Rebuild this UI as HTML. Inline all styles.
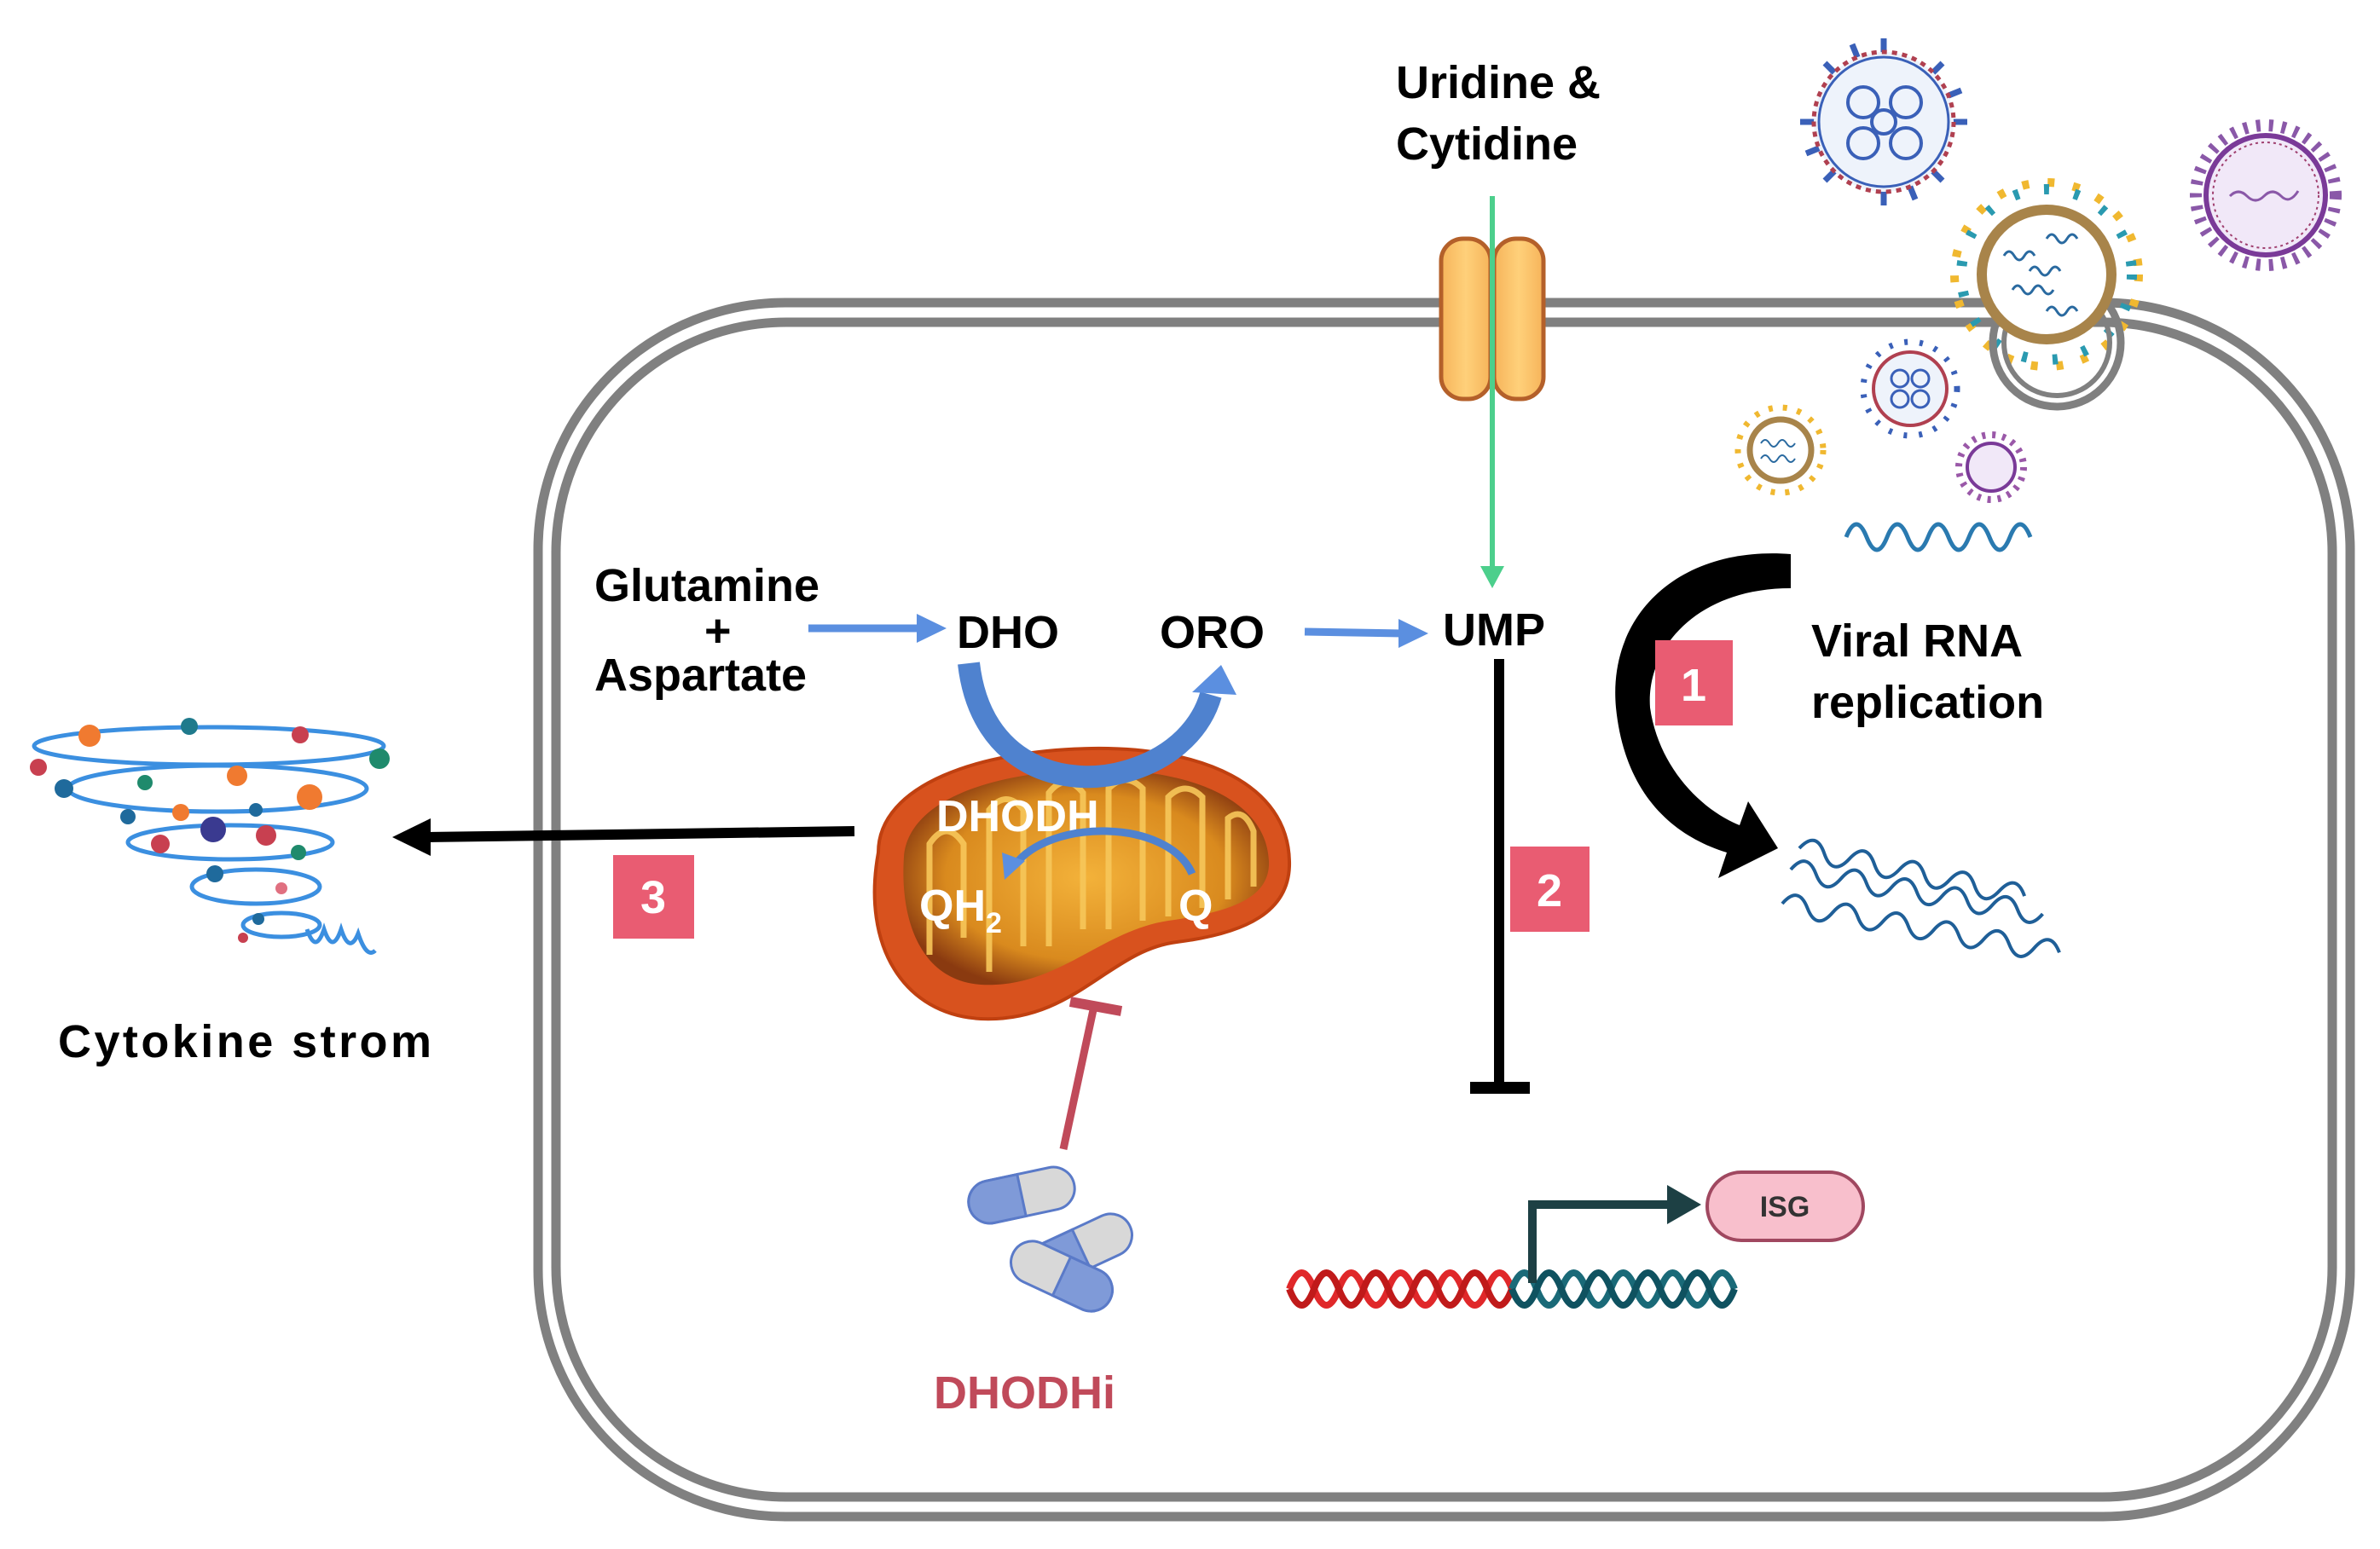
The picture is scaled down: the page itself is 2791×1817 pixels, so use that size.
<!DOCTYPE html>
<html><head><meta charset="utf-8"><style>
html,body{margin:0;padding:0;background:#fff}
svg{display:block}
text{font-family:"Liberation Sans",Arial,sans-serif;font-weight:bold}
</style></head><body>
<svg width="2791" height="1817" viewBox="0 0 2791 1817" xmlns="http://www.w3.org/2000/svg">
<defs>
<radialGradient id="mito" cx="50%" cy="50%" r="55%"><stop offset="0" stop-color="#f3b23a"/><stop offset="0.7" stop-color="#d98a1e"/><stop offset="1" stop-color="#8a3a10"/></radialGradient>
<linearGradient id="chan" x1="0" x2="1"><stop offset="0" stop-color="#f6b45a"/><stop offset="0.5" stop-color="#ffd07a"/><stop offset="1" stop-color="#f6b45a"/></linearGradient>
</defs>
<rect x="631" y="355" width="2125" height="1424" rx="290" fill="none" stroke="#808080" stroke-width="11"/>
<rect x="652" y="378" width="2083" height="1378" rx="270" fill="none" stroke="#808080" stroke-width="11"/>

<rect x="1690" y="280" width="58" height="188" rx="26" fill="url(#chan)" stroke="#b4602a" stroke-width="5"/>
<rect x="1752" y="280" width="58" height="188" rx="26" fill="url(#chan)" stroke="#b4602a" stroke-width="5"/>
<line x1="1750" y1="230" x2="1750" y2="668" stroke="#4ccf8c" stroke-width="6"/>
<polygon points="1736,664 1764,664 1750,690" fill="#4ccf8c"/>
<text x="1637" y="115" font-size="54">Uridine &amp;</text>
<text x="1637" y="187" font-size="54">Cytidine</text>

<text x="697" y="705" font-size="54">Glutamine</text>
<text x="826" y="758" font-size="54">+</text>
<text x="697" y="810" font-size="54">Aspartate</text>
<line x1="948" y1="737" x2="1080" y2="737" stroke="#5b8fe0" stroke-width="9"/>
<polygon points="1075,720 1110,737 1075,754" fill="#5b8fe0"/>
<text x="1122" y="760" font-size="54">DHO</text>
<text x="1360" y="760" font-size="54">ORO</text>
<line x1="1530" y1="741" x2="1645" y2="743" stroke="#5b8fe0" stroke-width="9"/>
<polygon points="1640,726 1675,743 1640,760" fill="#5b8fe0"/>
<text x="1692" y="757" font-size="54">UMP</text>

<path d="M1030,1000 C1030,920 1150,880 1280,878 C1410,876 1510,920 1512,1010 C1514,1070 1460,1095 1380,1105 C1300,1115 1260,1200 1150,1195 C1060,1190 1010,1110 1030,1000 Z" fill="#d8521e" stroke="#c04010" stroke-width="4"/>
<path d="M1060,1005 C1065,940 1160,905 1280,903 C1400,901 1485,940 1488,1010 C1490,1055 1440,1070 1370,1080 C1290,1092 1240,1160 1150,1155 C1080,1150 1055,1080 1060,1005 Z" fill="url(#mito)"/>
<g fill="none" stroke="#f7c75a" stroke-width="7" opacity="0.9">
<path d="M1090,1120 L1090,990 Q1110,960 1130,990 L1130,1100"/>
<path d="M1160,1140 L1160,950 Q1180,925 1200,950 L1200,1110"/>
<path d="M1230,1110 L1230,930 Q1250,905 1270,930 L1270,1090"/>
<path d="M1300,1090 L1300,925 Q1320,905 1340,925 L1340,1080"/>
<path d="M1370,1075 L1370,935 Q1390,915 1410,935 L1410,1065"/>
<path d="M1440,1055 L1440,960 Q1458,945 1470,975 L1470,1040"/>
</g>
<path d="M1136,778 C1150,900 1250,925 1320,905 C1380,888 1410,850 1420,815" fill="none" stroke="#4f82cf" stroke-width="26"/>
<polygon points="1398,812 1432,780 1450,815" fill="#5b8fe0"/>
<text x="1098" y="975" font-size="52" fill="#fff">DHODH</text>
<path d="M1398,1025 C1370,960 1230,960 1190,1015" fill="none" stroke="#4f82cf" stroke-width="9"/>
<polygon points="1175,1000 1202,1010 1178,1032" fill="#5b8fe0"/>
<text x="1078" y="1080" font-size="52" fill="#fff">QH<tspan font-size="34" dy="14">2</tspan></text>
<text x="1382" y="1080" font-size="52" fill="#fff">Q</text>

<line x1="1002" y1="975" x2="500" y2="982" stroke="#000" stroke-width="12"/>
<polygon points="505,960 460,982 505,1004" fill="#000"/>
<rect x="719" y="1003" width="95" height="98" fill="#e95c72"/>
<text x="766" y="1071" font-size="54" fill="#fff" text-anchor="middle" font-weight="normal">3</text>

<g fill="none" stroke="#3b8fe0" stroke-width="5">
<ellipse cx="245" cy="875" rx="205" ry="22"/>
<ellipse cx="255" cy="925" rx="175" ry="27"/>
<ellipse cx="270" cy="988" rx="120" ry="20"/>
<ellipse cx="300" cy="1040" rx="75" ry="20"/>
<ellipse cx="330" cy="1085" rx="45" ry="14"/>
<path d="M360,1090 q10,30 20,0 q10,30 20,0 q10,30 20,5 q10,30 20,20"/>
</g>
<g>
<circle cx="105" cy="863" r="13" fill="#f07a30"/><circle cx="222" cy="852" r="10" fill="#1f7a8c"/><circle cx="352" cy="862" r="10" fill="#c84050"/>
<circle cx="45" cy="900" r="10" fill="#c84050"/><circle cx="445" cy="890" r="12" fill="#1f8a6c"/><circle cx="170" cy="918" r="9" fill="#1f8a6c"/><circle cx="278" cy="910" r="12" fill="#f07a30"/>
<circle cx="75" cy="925" r="11" fill="#1f6a9c"/><circle cx="363" cy="935" r="15" fill="#f07a30"/><circle cx="150" cy="958" r="9" fill="#1f6a9c"/><circle cx="212" cy="953" r="10" fill="#f07a30"/><circle cx="300" cy="950" r="8" fill="#1f6a9c"/>
<circle cx="250" cy="973" r="15" fill="#3a3a90"/><circle cx="188" cy="990" r="11" fill="#c84050"/><circle cx="312" cy="980" r="12" fill="#c84050"/><circle cx="350" cy="1000" r="9" fill="#1f8a6c"/>
<circle cx="252" cy="1025" r="10" fill="#1f6a9c"/><circle cx="330" cy="1042" r="7" fill="#e07080"/><circle cx="303" cy="1078" r="7" fill="#1f6a9c"/><circle cx="285" cy="1100" r="6" fill="#c84050"/>
</g>
<text x="68" y="1240" font-size="54" textLength="438" lengthAdjust="spacing">Cytokine strom</text>

<line x1="1247" y1="1348" x2="1283" y2="1180" stroke="#c04a5a" stroke-width="9"/>
<line x1="1255" y1="1175" x2="1315" y2="1186" stroke="#c04a5a" stroke-width="12"/>
<g stroke="#5a7ac8" stroke-width="3">
<g transform="rotate(-12 1198 1402)"><rect x="1135" y="1377" width="126" height="50" rx="25" fill="#d8d8d8"/><path d="M1198,1377 L1160,1377 A25,25 0 0 0 1160,1427 L1198,1427 Z" fill="#7f9ad8"/></g>
<g transform="rotate(-25 1268 1465)"><rect x="1205" y="1440" width="126" height="50" rx="25" fill="#d8d8d8"/><path d="M1268,1440 L1230,1440 A25,25 0 0 0 1230,1490 L1268,1490 Z" fill="#7f9ad8"/></g>
<g transform="rotate(25 1245 1497)"><rect x="1182" y="1472" width="126" height="50" rx="25" fill="#d8d8d8"/><path d="M1245,1472 L1283,1472 A25,25 0 0 1 1283,1522 L1245,1522 Z" fill="#7f9ad8"/></g>
</g>
<text x="1095" y="1652" font-size="54" fill="#c04a5a">DHODHi</text>

<line x1="1758" y1="773" x2="1758" y2="1276" stroke="#000" stroke-width="12"/>
<line x1="1724" y1="1276" x2="1794" y2="1276" stroke="#000" stroke-width="14"/>
<rect x="1771" y="993" width="93" height="100" fill="#e95c72"/>
<text x="1817" y="1063" font-size="54" fill="#fff" text-anchor="middle" font-weight="normal">2</text>

<g fill="none" stroke-width="8">
<path d="M1512,1512 q14.5,-38 29,0 t29,0 t29,0 t29,0 t29,0 t29,0 t29,0 t29,0 t29,0" stroke="#e0282a"/>
<path d="M1512,1512 q14.5,38 29,0 t29,0 t29,0 t29,0 t29,0 t29,0 t29,0 t29,0 t29,0" stroke="#c01a1a"/>
<path d="M1773,1512 q14.5,-38 29,0 t29,0 t29,0 t29,0 t29,0 t29,0 t29,0 t29,0 t29,0" stroke="#1a6a78"/>
<path d="M1773,1512 q14.5,38 29,0 t29,0 t29,0 t29,0 t29,0 t29,0 t29,0 t29,0 t29,0" stroke="#0f5260"/>
</g>
<path d="M1797,1505 L1797,1413 L1965,1413" fill="none" stroke="#1d4044" stroke-width="10"/>
<polygon points="1955,1390 1995,1413 1955,1436" fill="#1d4044"/>
<rect x="2002" y="1375" width="183" height="80" rx="40" fill="#f8bfcc" stroke="#a04860" stroke-width="4"/>
<text x="2093" y="1427" font-size="34" font-weight="normal" fill="#333" text-anchor="middle">ISG</text>

<path d="M2100,650 C1970,640 1885,720 1895,830 C1905,930 1960,980 2025,1000 L2015,1030 L2085,995 L2050,940 L2040,968 C1995,950 1945,900 1935,830 C1930,760 1990,690 2100,690 Z" fill="#000"/>
<rect x="1941" y="751" width="91" height="100" fill="#e95c72"/>
<text x="1986" y="822" font-size="54" fill="#fff" text-anchor="middle" font-weight="normal">1</text>
<text x="2124" y="770" font-size="54">Viral RNA</text>
<text x="2124" y="842" font-size="54">replication</text>

<path d="M2165,630 q12,-30 24,0 t24,0 t24,0 t24,0 t24,0 t24,0 t24,0 t24,0 t24,0" fill="none" stroke="#2a7ab0" stroke-width="5"/>
<g fill="none" stroke="#1f5f98" stroke-width="4">
<path d="M2090,1040 q15,-25 30,0 t30,0 t30,0 t30,0 t30,0 t30,0 t30,0 t30,0 t30,0 t30,0 t30,0" transform="translate(0,20) rotate(10 2090 1040)"/>
<path d="M2100,1020 q15,-25 30,0 t30,0 t30,0 t30,0 t30,0 t30,0 t30,0 t30,0 t30,0 t30,0" transform="rotate(10 2100 1020)"/>
<path d="M2110,995 q15,-25 30,0 t30,0 t30,0 t30,0 t30,0 t30,0 t30,0 t30,0 t30,0" transform="rotate(12 2110 995)"/>
</g>

<g>
<g stroke="#3a60b8" stroke-width="7" fill="#3a60b8">
<line x1="2209" y1="143" x2="2209" y2="45"/><line x1="2209" y1="143" x2="2209" y2="241"/><line x1="2209" y1="143" x2="2111" y2="143"/><line x1="2209" y1="143" x2="2307" y2="143"/>
<line x1="2209" y1="143" x2="2140" y2="74"/><line x1="2209" y1="143" x2="2278" y2="212"/><line x1="2209" y1="143" x2="2278" y2="74"/><line x1="2209" y1="143" x2="2140" y2="212"/>
<line x1="2209" y1="143" x2="2172" y2="52"/><line x1="2209" y1="143" x2="2246" y2="234"/><line x1="2209" y1="143" x2="2300" y2="106"/><line x1="2209" y1="143" x2="2118" y2="180"/>
</g>
<circle cx="2209" cy="143" r="82" fill="#eef3fb" stroke="#b04050" stroke-width="5" stroke-dasharray="6 6"/>
<circle cx="2209" cy="143" r="76" fill="none" stroke="#3a60b8" stroke-width="3"/>
<g fill="none" stroke="#3a60b8" stroke-width="4"><circle cx="2185" cy="120" r="18"/><circle cx="2235" cy="120" r="18"/><circle cx="2185" cy="168" r="18"/><circle cx="2235" cy="168" r="18"/><circle cx="2209" cy="143" r="14"/></g>
</g>
<g>
<circle cx="2657" cy="229" r="82" fill="none" stroke="#8a58a8" stroke-width="14" stroke-dasharray="5 10"/>
<circle cx="2657" cy="229" r="70" fill="#f1e8f8" stroke="#7a3a98" stroke-width="6"/>
<circle cx="2657" cy="229" r="62" fill="none" stroke="#a04070" stroke-width="2" stroke-dasharray="3 4"/>
<path d="M2615,230 q10,-10 20,0 t20,0 t20,0 t20,-6" fill="none" stroke="#8a58a8" stroke-width="3"/>
</g>
<g>
<circle cx="2400" cy="322" r="108" fill="none" stroke="#f0b830" stroke-width="10" stroke-dasharray="8 22"/>
<circle cx="2400" cy="322" r="100" fill="none" stroke="#2a9ab0" stroke-width="12" stroke-dasharray="6 30"/>
<circle cx="2412" cy="402" r="75" fill="none" stroke="#808080" stroke-width="9"/>
<circle cx="2412" cy="402" r="62" fill="none" stroke="#808080" stroke-width="6"/>
<circle cx="2400" cy="322" r="76" fill="#ffffff" stroke="#a8844a" stroke-width="12"/>
<g fill="none" stroke="#2a6aa0" stroke-width="3"><path d="M2350,300 q6,-10 12,0 t12,0 t12,0"/><path d="M2400,280 q6,-10 12,0 t12,0 t12,0"/><path d="M2360,340 q6,-10 12,0 t12,0 t12,0 t12,0"/><path d="M2400,365 q6,-10 12,0 t12,0 t12,0"/><path d="M2380,318 q6,-10 12,0 t12,0 t12,0"/></g>
</g>
<g>
<circle cx="2240" cy="456" r="55" fill="none" stroke="#3a60b8" stroke-width="7" stroke-dasharray="4 14"/>
<circle cx="2240" cy="456" r="43" fill="#eef3fb" stroke="#b04050" stroke-width="4"/>
<g fill="none" stroke="#3a60b8" stroke-width="3"><circle cx="2228" cy="444" r="10"/><circle cx="2252" cy="444" r="10"/><circle cx="2228" cy="468" r="10"/><circle cx="2252" cy="468" r="10"/></g>
</g>
<g>
<circle cx="2088" cy="528" r="50" fill="none" stroke="#f0b830" stroke-width="7" stroke-dasharray="5 12"/>
<circle cx="2088" cy="528" r="36" fill="#fff" stroke="#a8844a" stroke-width="7"/>
<path d="M2065,520 q5,-8 10,0 t10,0 t10,0 t10,0 M2065,538 q5,-8 10,0 t10,0 t10,0 t10,0" fill="none" stroke="#2a6aa0" stroke-width="2"/>
</g>
<g>
<circle cx="2335" cy="548" r="38" fill="none" stroke="#9a58a8" stroke-width="8" stroke-dasharray="4 8"/>
<circle cx="2335" cy="548" r="28" fill="#f1e8f8" stroke="#7a3a98" stroke-width="4"/>
</g>
</svg>
</body></html>
